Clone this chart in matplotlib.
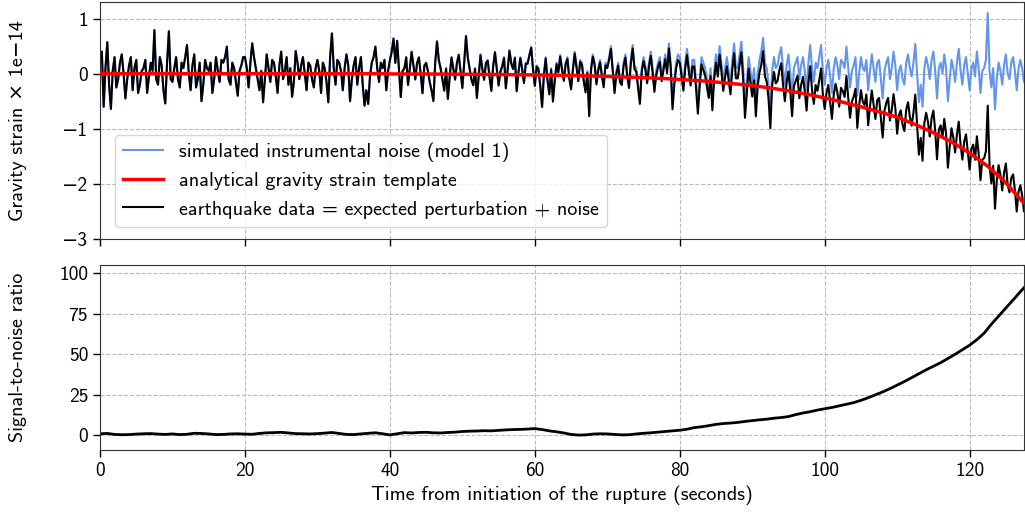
import numpy as np
import matplotlib

matplotlib.use("Agg")
import matplotlib.pyplot as plt

plt.rcParams["font.family"] = ["cmss10", "DejaVu Sans"]
plt.rcParams["axes.formatter.use_mathtext"] = False
plt.rcParams["axes.unicode_minus"] = True
plt.rcParams["font.size"] = 14.5

# time grid of the strain series (seconds, 0.25 s step)
t_strain = np.arange(512) * 0.25

# simulated instrumental noise (units of 1e-14)
noise = [
    # 0 - 10 s
    0.2, 0.4, -0.6, 0.1, 0.57, -0.2, -0.64, 0.05, 0.3, -0.25,
    -0.1, 0.2, 0.35, 0.0, -0.45, -0.1, 0.15, 0.3, -0.3, 0.1,
    0.25, -0.35, -0.2, 0.05, 0.1, 0.25, -0.35, -0.05, 0.2, 0.05,
    0.79, -0.1, -0.2, 0.3, 0.15, -0.3, -0.54, 0.2, 0.77, -0.1,
    # 10 - 20 s
    -0.15, 0.1, 0.3, -0.1, -0.25, 0.2, 0.1, 0.3, 0.52, 0.0,
    -0.3, 0.15, 0.35, -0.25, -0.1, 0.2, -0.5, -0.2, 0.25, 0.1,
    0.05, 0.2, -0.35, -0.1, 0.3, 0.05, -0.15, 0.25, 0.2, 0.3,
    0.49, -0.1, -0.2, 0.2, 0.1, -0.15, -0.4, 0.05, 0.15, 0.3,
    # 20 - 30 s
    0.3, 0.1, -0.25, 0.2, 0.55, 0.3, 0.1, -0.1, -0.3, 0.05,
    -0.52, -0.1, 0.35, 0.1, -0.15, 0.25, 0.2, -0.05, -0.35, 0.15,
    0.4, -0.1, 0.05, 0.3, -0.2, 0.1, -0.42, -0.15, 0.41, 0.2,
    -0.1, 0.15, 0.3, 0.0, -0.3, 0.2, 0.15, -0.1, -0.25, 0.1,
    # 30 - 40 s
    0.25, 0.05, -0.35, 0.2, 0.1, -0.15, -0.52, 0.3, 0.73, 0.1,
    -0.2, 0.25, 0.2, 0.05, -0.3, 0.1, 0.35, 0.15, -0.5, -0.1,
    0.15, 0.3, -0.2, 0.1, 0.3, -0.2, -0.58, -0.3, -0.55, -0.05,
    0.2, 0.3, 0.49, 0.1, -0.15, 0.2, 0.1, 0.25, -0.3, 0.05,
    # 40 - 50 s
    0.25, 0.4, 0.64, 0.2, 0.6, 0.1, -0.42, 0.05, 0.1, 0.3,
    -0.2, 0.1, 0.4, 0.15, -0.1, 0.2, 0.3, 0.0, -0.35, 0.15,
    0.2, 0.05, -0.15, -0.3, -0.49, 0.2, 0.59, 0.25, 0.1, -0.1,
    -0.3, 0.1, -0.45, -0.05, 0.3, 0.1, -0.1, 0.2, 0.35, 0.05,
    # 50 - 60 s
    -0.25, 0.2, 0.69, 0.3, 0.1, -0.1, -0.2, 0.1, -0.43, -0.05,
    0.35, 0.1, -0.1, 0.2, 0.25, -0.05, -0.3, 0.15, 0.4, 0.1,
    -0.2, 0.05, 0.15, 0.3, -0.25, 0.1, 0.43, 0.2, 0.1, 0.3,
    -0.3, 0.05, 0.3, 0.1, -0.15, 0.2, 0.2, 0.35, 0.49, 0.1,
    # 60 - 70 s
    -0.2, 0.15, 0.1, -0.2, -0.58, 0.0, 0.3, -0.1, -0.35, 0.1,
    -0.48, -0.1, 0.2, 0.05, 0.34, 0.1, -0.1, 0.2, 0.3, -0.05,
    -0.25, 0.1, 0.4, 0.15, -0.1, 0.25, 0.2, -0.1, -0.3, 0.05,
    -0.73, 0.1, 0.35, 0.2, -0.15, 0.1, 0.25, 0.0, -0.2, 0.2,
    # 70 - 80 s
    0.15, 0.3, 0.5, 0.1, -0.3, 0.05, 0.2, -0.1, -0.15, 0.2,
    0.35, 0.0, -0.2, 0.25, 0.52, 0.15, 0.1, -0.2, -0.48, 0.1,
    0.3, 0.15, -0.1, 0.2, 0.4, 0.1, -0.25, 0.05, 0.2, 0.3,
    -0.05, 0.15, 0.35, 0.1, 0.55, 0.2, -0.55, -0.1, 0.2, 0.35,
    # 80 - 90 s
    0.3, 0.05, -0.2, 0.2, 0.45, 0.15, -0.1, 0.25, 0.25, -0.15,
    -0.6, -0.1, 0.3, 0.2, 0.1, -0.1, -0.3, 0.1, -0.52, 0.05,
    0.35, 0.1, 0.5, 0.2, -0.15, 0.1, 0.3, 0.05, -0.2, 0.25,
    0.55, 0.1, 0.1, 0.35, 0.58, 0.1, -0.6, -0.15, 0.3, 0.05,
    # 90 - 100 s
    -0.2, 0.1, -0.55, 0.0, 0.25, 0.4, 0.65, 0.2, 0.1, -0.2,
    -0.73, 0.05, 0.3, 0.1, 0.15, 0.35, 0.48, 0.1, -0.2, 0.15,
    0.35, 0.0, -0.45, 0.1, 0.2, 0.3, -0.1, 0.15, 0.3, 0.05,
    -0.3, 0.2, 0.52, 0.1, -0.15, 0.2, 0.1, 0.3, 0.52, 0.05,
    # 100 - 110 s
    -0.2, 0.1, 0.25, -0.05, -0.35, 0.1, 0.3, 0.15, -0.1, 0.25,
    0.2, 0.1, 0.49, 0.1, -0.25, 0.05, 0.15, 0.3, -0.4, 0.0,
    0.3, 0.1, 0.05, 0.25, -0.3, 0.05, 0.35, 0.1, -0.15, 0.2,
    0.25, -0.1, -0.45, 0.05, 0.2, 0.3, -0.1, 0.1, 0.4, 0.15,
    # 110 - 120 s
    -0.3, 0.05, 0.15, -0.1, -0.2, 0.2, 0.35, 0.1, -0.05, 0.2,
    0.54, 0.0, -0.52, -0.2, -0.6, 0.1, 0.3, 0.15, -0.1, 0.25,
    0.4, 0.05, -0.45, 0.1, 0.2, 0.0, 0.35, 0.1, -0.5, -0.1,
    0.25, 0.1, -0.15, 0.2, 0.45, 0.05, -0.2, 0.15, 0.3, 0.0,
    # 120 - 128 s
    -0.3, 0.1, 0.2, -0.05, 0.4, 0.1, -0.35, 0.05, 0.1, 0.25,
    1.1, 0.05, -0.25, 0.1, -0.65, -0.1, 0.2, 0.05, -0.2, 0.15,
    0.35, 0.0, -0.1, 0.2, 0.3, 0.05, -0.3, 0.1, 0.25, 0.1,
    -0.15, 0.1,
]

# analytical gravity strain template (flat before 40 s)
template = [0.0] * 160 + [
    # 40 - 50 s
    -0.005, -0.005, -0.005, -0.005, -0.005, -0.005, -0.005, -0.005, -0.005, -0.005,
    -0.005, -0.005, -0.006, -0.006, -0.006, -0.006, -0.006, -0.006, -0.006, -0.006,
    -0.007, -0.007, -0.007, -0.007, -0.007, -0.007, -0.008, -0.008, -0.008, -0.008,
    -0.009, -0.009, -0.009, -0.009, -0.009, -0.009, -0.010, -0.010, -0.010, -0.010,
    # 50 - 60 s
    -0.011, -0.011, -0.011, -0.011, -0.012, -0.012, -0.012, -0.012, -0.012, -0.012,
    -0.013, -0.013, -0.013, -0.013, -0.014, -0.014, -0.014, -0.014, -0.015, -0.015,
    -0.016, -0.016, -0.017, -0.017, -0.017, -0.017, -0.018, -0.018, -0.018, -0.018,
    -0.019, -0.019, -0.020, -0.020, -0.021, -0.021, -0.021, -0.021, -0.022, -0.022,
    # 60 - 70 s
    -0.023, -0.023, -0.024, -0.024, -0.025, -0.025, -0.026, -0.026, -0.027, -0.027,
    -0.028, -0.028, -0.029, -0.029, -0.030, -0.030, -0.031, -0.032, -0.033, -0.033,
    -0.034, -0.034, -0.035, -0.036, -0.037, -0.037, -0.038, -0.039, -0.040, -0.040,
    -0.041, -0.042, -0.043, -0.043, -0.044, -0.045, -0.046, -0.047, -0.048, -0.048,
    # 70 - 80 s
    -0.049, -0.050, -0.051, -0.052, -0.053, -0.054, -0.055, -0.056, -0.057, -0.058,
    -0.059, -0.060, -0.061, -0.062, -0.063, -0.065, -0.066, -0.067, -0.068, -0.070,
    -0.071, -0.073, -0.074, -0.076, -0.077, -0.079, -0.080, -0.082, -0.083, -0.085,
    -0.086, -0.088, -0.089, -0.091, -0.093, -0.095, -0.096, -0.098, -0.100, -0.102,
    # 80 - 90 s
    -0.104, -0.106, -0.108, -0.110, -0.112, -0.114, -0.116, -0.118, -0.120, -0.122,
    -0.125, -0.127, -0.130, -0.132, -0.135, -0.137, -0.140, -0.142, -0.145, -0.147,
    -0.150, -0.153, -0.156, -0.159, -0.162, -0.165, -0.168, -0.171, -0.174, -0.177,
    -0.180, -0.183, -0.187, -0.190, -0.194, -0.197, -0.201, -0.204, -0.208, -0.211,
    # 90 - 100 s
    -0.215, -0.220, -0.224, -0.228, -0.233, -0.238, -0.242, -0.246, -0.251, -0.256,
    -0.260, -0.265, -0.270, -0.275, -0.280, -0.285, -0.290, -0.295, -0.300, -0.305,
    -0.310, -0.316, -0.322, -0.328, -0.334, -0.340, -0.346, -0.352, -0.358, -0.364,
    -0.370, -0.377, -0.384, -0.391, -0.398, -0.405, -0.412, -0.419, -0.426, -0.433,
    # 100 - 110 s
    -0.440, -0.447, -0.455, -0.462, -0.470, -0.477, -0.485, -0.492, -0.500, -0.507,
    -0.515, -0.523, -0.532, -0.540, -0.549, -0.557, -0.566, -0.574, -0.583, -0.591,
    -0.600, -0.609, -0.618, -0.627, -0.636, -0.645, -0.654, -0.663, -0.672, -0.681,
    -0.690, -0.700, -0.710, -0.720, -0.730, -0.740, -0.750, -0.760, -0.770, -0.780,
    # 110 - 120 s
    -0.790, -0.803, -0.816, -0.829, -0.842, -0.855, -0.868, -0.881, -0.894, -0.907,
    -0.920, -0.935, -0.950, -0.965, -0.980, -0.995, -1.010, -1.025, -1.040, -1.055,
    -1.070, -1.087, -1.104, -1.121, -1.138, -1.155, -1.172, -1.189, -1.206, -1.223,
    -1.240, -1.260, -1.280, -1.300, -1.320, -1.340, -1.360, -1.380, -1.400, -1.420,
    # 120 - 128 s
    -1.440, -1.464, -1.488, -1.512, -1.536, -1.560, -1.584, -1.608, -1.632, -1.656,
    -1.680, -1.710, -1.740, -1.770, -1.800, -1.830, -1.860, -1.890, -1.920, -1.950,
    -1.980, -2.017, -2.054, -2.091, -2.128, -2.165, -2.202, -2.239, -2.276, -2.313,
    -2.350, -2.390,
]

# signal-to-noise ratio, 1 s step
t_snr = np.arange(129)
snr = [
    1.0, 1.2, 0.6, 0.4, 0.5, 0.8, 1.0, 1.1, 0.8, 0.6,
    0.9, 0.5, 0.7, 1.3, 1.2, 0.9, 0.5, 0.6, 0.9, 1.0,
    0.8, 0.7, 1.2, 1.6, 1.7, 1.9, 1.5, 1.1, 1.0, 0.9,
    1.1, 1.4, 1.8, 1.2, 0.6, 0.5, 0.9, 1.3, 1.6, 1.0,
    0.3, 1.0, 1.7, 1.5, 1.8, 1.9, 1.6, 1.5, 1.8, 2.0,
    2.4, 2.6, 2.7, 2.9, 2.8, 3.1, 3.4, 3.6, 3.7, 3.9,
    4.2, 3.6, 2.8, 2.2, 1.5, 0.6, 0.2, 0.3, 0.8, 1.0,
    0.9, 0.6, 0.3, 0.4, 0.9, 1.3, 1.6, 2.0, 2.4, 2.8,
    3.2, 3.8, 4.8, 5.3, 6.0, 6.8, 7.3, 7.6, 8.0, 8.6,
    9.1, 9.6, 10.0, 10.6, 11.0, 11.6, 12.8, 13.8, 14.6, 15.6,
    16.4, 17.2, 18.2, 19.2, 20.2, 21.6, 23.2, 25.0, 26.8, 28.8,
    31.0, 33.2, 35.6, 38.0, 40.4, 42.6, 44.8, 47.4, 50.0, 52.8,
    55.6, 59.0, 63.0, 68.5, 73.5, 78.5, 83.5, 88.5, 93.5,
]

noise = np.array(noise)
template = np.array(template)
# legend: earthquake data = expected perturbation + noise
data = template + noise

fig = plt.figure(figsize=(10.25, 5.17), dpi=100)
ax1 = fig.add_axes([0.0976, 0.5377, 0.9014, 0.4584])
ax2 = fig.add_axes([0.0976, 0.1296, 0.9014, 0.3578], sharex=ax1)

l_noise, = ax1.plot(t_strain, noise, color="cornflowerblue", lw=1.5,
                    label="simulated instrumental noise (model 1)")
l_data, = ax1.plot(t_strain, data, color="black", lw=1.5,
                   label="earthquake data = expected perturbation + noise")
l_tmpl, = ax1.plot(t_strain, template, color="red", lw=2.5, zorder=4,
                   label="analytical gravity strain template")

ax1.set_xlim(0, 127.5)
ax1.set_ylim(-3, 1.3)
ax1.set_yticks([-3, -2, -1, 0, 1])
ax1.set_ylabel("Gravity strain \u00d7 1e\u221214")
ax1.tick_params(labelbottom=False)
ax1.legend(handles=[l_noise, l_tmpl, l_data], loc="lower left",
           bbox_to_anchor=(0.005, 0.01), fontsize=14.5, handlelength=2.0)

ax2.plot(t_snr, snr, color="black", lw=2)
ax2.set_ylim(-9, 105)
ax2.set_yticks([0, 25, 50, 75, 100])
ax2.set_xticks([0, 20, 40, 60, 80, 100, 120])
ax2.set_ylabel("Signal-to-noise ratio")
ax2.set_xlabel("Time from initiation of the rupture (seconds)")

for ax in (ax1, ax2):
    ax.grid(True, linestyle="--", color="#bbbbbb", linewidth=0.8)
    ax.tick_params(direction="out", length=5, width=1, labelsize=14)
    ax.yaxis.set_label_coords(-0.079, 0.5)
    for s in ax.spines.values():
        s.set_color("#333333")

fig.savefig("out.png", dpi=100)
